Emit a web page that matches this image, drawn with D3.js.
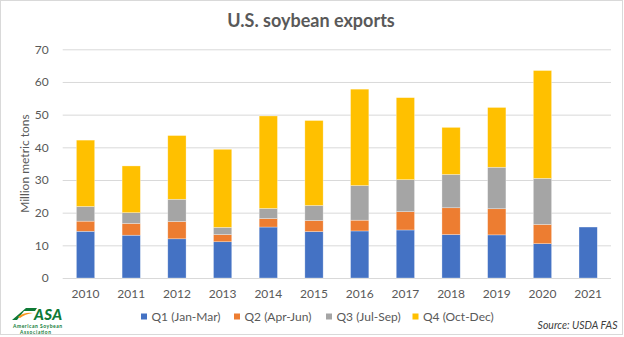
<!DOCTYPE html>
<html><head><meta charset="utf-8">
<script src="https://cdn.jsdelivr.net/npm/d3@7/dist/d3.min.js"></script>
<style>
html,body{margin:0;padding:0;background:#fff;}
svg{display:block;font-family:Lato,"Open Sans",sans-serif;}
</style></head>
<body><svg id="c" width="624" height="337"></svg>
<script>
const years = ["2010","2011","2012","2013","2014","2015","2016","2017","2018","2019","2020","2021"];
const q1 = [14.3,13.1,12.0,11.1,15.6,14.2,14.4,14.7,13.3,13.2,10.5,15.6];
const q2 = [3.1,3.6,5.3,2.2,2.6,3.4,3.3,5.6,8.2,8.0,5.9,0];
const q3 = [4.5,3.3,6.8,2.2,3.1,4.6,10.6,9.8,10.2,12.7,14.1,0];
const q4 = [20.3,14.3,19.5,23.9,28.3,26.0,29.5,25.1,14.4,18.3,33.0,0];
const seriesNames = ["Q1 (Jan-Mar)","Q2 (Apr-Jun)","Q3 (Jul-Sep)","Q4 (Oct-Dec)"];
const colors = ["#4472C4","#ED7D31","#A5A5A5","#FFC000"];
const yTicks = [0,10,20,30,40,50,60,70];

const svg = d3.select("#c");
const textColor = "#595959";

// frame
svg.append("rect").attr("x",0.5).attr("y",0.5).attr("width",622).attr("height",334)
  .attr("fill","#fff").attr("stroke","#d9d9d9").attr("stroke-width",1);

const rows = years.map((y,i)=>({year:y, q1:q1[i], q2:q2[i], q3:q3[i], q4:q4[i]}));
const keys = ["q1","q2","q3","q4"];
const stacked = d3.stack().keys(keys)(rows);

const x = d3.scaleBand().domain(years).range([62.7,611]).paddingInner(0.6).paddingOuter(0.3);
const y = d3.scaleLinear().domain([0,70]).range([278,49.3]);

// gridlines
const yAxis = d3.axisLeft(y).tickValues(yTicks).tickSize(-(611-62.7)).tickPadding(14);
const gy = svg.append("g").attr("transform","translate(62.7,0)").call(yAxis);
gy.select(".domain").remove();
gy.selectAll(".tick line").attr("stroke","#d9d9d9").attr("stroke-width",1);
gy.selectAll(".tick text").attr("fill",textColor).attr("font-size","12px").attr("font-family","Lato");

// bars
svg.append("g").selectAll("g").data(stacked).join("g")
  .attr("fill",(d,i)=>colors[i])
  .selectAll("rect").data(d=>d).join("rect")
  .attr("x",d=>x(d.data.year))
  .attr("width",x.bandwidth())
  .attr("y",d=>y(d[1]))
  .attr("height",d=>Math.max(0,y(d[0])-y(d[1])))
  .attr("stroke","#ffffff").attr("stroke-opacity",0.5).attr("stroke-width",0.6);

// x axis labels
const xAxis = d3.axisBottom(x).tickSize(0).tickPadding(11);
const gx = svg.append("g").attr("transform","translate(0,278)").call(xAxis);
gx.select(".domain").remove();
gx.selectAll(".tick text").attr("fill",textColor).attr("font-size","12px").attr("font-family","Lato");

// y axis title
svg.append("text").attr("transform","translate(24,163.6) rotate(-90)")
  .attr("text-anchor","middle").attr("dominant-baseline","central")
  .attr("fill",textColor).attr("font-size","12px").text("Million metric tons");

// title
svg.append("text").attr("x",311).attr("y",20).attr("text-anchor","middle")
  .attr("dominant-baseline","central").attr("fill",textColor)
  .attr("font-size","18px").attr("font-weight","bold").text("U.S. soybean exports");

// legend
const legendX = [141,234,326,412.5];
const lg = svg.append("g");
seriesNames.forEach((n,i)=>{
  lg.append("rect").attr("x",legendX[i]).attr("y",313.5).attr("width",6).attr("height",6).attr("fill",colors[i]);
  lg.append("text").attr("x",legendX[i]+10.5).attr("y",316.7).attr("dominant-baseline","central")
    .attr("fill",textColor).attr("font-size","12px").text(n);
});

// source
svg.append("text").attr("x",617.5).attr("y",325).attr("text-anchor","end")
  .attr("dominant-baseline","central").attr("fill","#404040").attr("font-size","10.5px")
  .attr("font-style","italic").text("Source: USDA FAS");

// logo
const logo = svg.append("g");
logo.append("path").attr("d","M12,320 L26,308 L37,308 L35,311 L24,311 L17,320 Z").attr("fill","#0f7a36");
logo.append("path").attr("d","M18,317 Q24,312 33,313 Q25,314 20,318 Z").attr("fill","#f7941d");
logo.append("text").attr("x",34).attr("y",319.5).attr("fill","#0f7a36").attr("font-size","15px")
  .attr("font-weight","900").attr("font-style","italic").attr("textLength",28).text("ASA");
logo.append("text").attr("x",37.5).attr("y",327.5).attr("text-anchor","middle").attr("fill","#0f7a36")
  .attr("font-size","5px").attr("font-weight","bold").attr("textLength",49).text("American Soybean");
logo.append("text").attr("x",35.5).attr("y",333.8).attr("text-anchor","middle").attr("fill","#0f7a36")
  .attr("font-size","4.8px").attr("font-weight","bold").attr("textLength",31).text("Association");
</script></body></html>
